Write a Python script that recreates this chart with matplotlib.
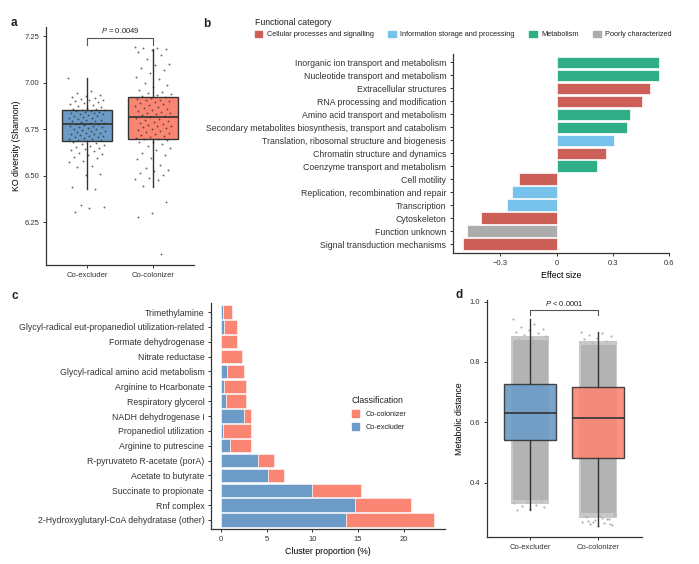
import matplotlib
matplotlib.use('Agg')
import matplotlib.pyplot as plt
import matplotlib.patches as mpatches
import numpy as np

plt.rcParams['font.family'] = ['Liberation Sans', 'DejaVu Sans']
plt.rcParams['mathtext.fontset'] = 'custom'
plt.rcParams['mathtext.it'] = 'Liberation Sans:italic'
plt.rcParams['mathtext.rm'] = 'Liberation Sans'
plt.rcParams['axes.edgecolor'] = '#333333'
plt.rcParams['xtick.color'] = '#333333'
plt.rcParams['ytick.color'] = '#333333'
plt.rcParams['text.color'] = '#222222'

# ---------------- data ----------------
groups = ['Co-excluder', 'Co-colonizer']

# panel a: KO diversity box stats (whislo, q1, med, q3, whishi)
a_stats = [[6.43, 6.685, 6.776, 6.856, 7.027],
           [6.44, 6.700, 6.815, 6.926, 7.184]]
a_points_excl = [7.027, 6.955, 6.945, 6.935, 6.93, 6.925, 6.92, 6.915, 6.91, 6.905,
                 6.90, 6.895, 6.89, 6.885, 6.88, 6.875, 6.87, 6.865, 6.86, 6.858,
                 6.855, 6.852, 6.85, 6.848, 6.845, 6.842, 6.84, 6.836, 6.832, 6.83,
                 6.826, 6.822, 6.82, 6.816, 6.812, 6.81, 6.806, 6.802, 6.80, 6.796,
                 6.792, 6.79, 6.786, 6.782, 6.78, 6.776, 6.772, 6.77, 6.766, 6.762,
                 6.76, 6.756, 6.752, 6.75, 6.746, 6.742, 6.74, 6.736, 6.732, 6.73,
                 6.726, 6.722, 6.72, 6.716, 6.712, 6.71, 6.706, 6.702, 6.70, 6.696,
                 6.692, 6.69, 6.686, 6.68, 6.675, 6.67, 6.665, 6.66, 6.655, 6.65,
                 6.645, 6.64, 6.635, 6.625, 6.615, 6.61, 6.60, 6.595, 6.58, 6.575,
                 6.55, 6.545, 6.51, 6.505, 6.44, 6.43, 6.345, 6.33, 6.325, 6.305]
a_points_col = [7.19, 7.188, 7.185, 7.18, 7.175, 7.165, 7.15, 7.13, 7.10, 7.095,
                7.08, 7.07, 7.05, 7.03, 7.02, 7.0, 6.99, 6.975, 6.96, 6.95,
                6.945, 6.94, 6.935, 6.93, 6.925, 6.92, 6.915, 6.91, 6.905, 6.90,
                6.895, 6.89, 6.885, 6.88, 6.875, 6.87, 6.865, 6.86, 6.855, 6.85,
                6.845, 6.84, 6.835, 6.83, 6.825, 6.82, 6.815, 6.81, 6.805, 6.80,
                6.795, 6.79, 6.785, 6.78, 6.775, 6.77, 6.765, 6.76, 6.755, 6.75,
                6.745, 6.74, 6.735, 6.73, 6.725, 6.72, 6.715, 6.71, 6.705, 6.70,
                6.695, 6.69, 6.68, 6.679, 6.67, 6.66, 6.65, 6.64, 6.625, 6.61,
                6.596, 6.59, 6.56, 6.542, 6.53, 6.525, 6.515, 6.503, 6.49, 6.48,
                6.475, 6.444, 6.36, 6.30, 6.28, 6.08]

# panel b: effect size per functional category (top to bottom)
b_labels = ['Inorganic ion transport and metabolism',
            'Nucleotide transport and metabolism',
            'Extracellular structures',
            'RNA processing and modification',
            'Amino acid transport and metabolism',
            'Secondary metabolites biosynthesis, transport and catabolism',
            'Translation, ribosomal structure and biogenesis',
            'Chromatin structure and dynamics',
            'Coenzyme transport and metabolism',
            'Cell motility',
            'Replication, recombination and repair',
            'Transcription',
            'Cytoskeleton',
            'Function unknown',
            'Signal transduction mechanisms']
b_values = [0.547, 0.547, 0.498, 0.454, 0.392, 0.374, 0.304, 0.261, 0.215,
            -0.198, -0.237, -0.265, -0.401, -0.477, -0.498]
b_cats = ['Metabolism', 'Metabolism', 'Cellular', 'Cellular', 'Metabolism', 'Metabolism',
          'Information', 'Cellular', 'Metabolism', 'Cellular', 'Information',
          'Information', 'Cellular', 'Poorly', 'Cellular']
b_cat_names = ['Cellular processes and signalling', 'Information storage and processing',
               'Metabolism', 'Poorly characterized']
b_cat_keys = ['Cellular', 'Information', 'Metabolism', 'Poorly']
b_cat_colors = {'Cellular': '#cc5f57', 'Information': '#77c2ea',
                'Metabolism': '#30ae87', 'Poorly': '#acacac'}

# panel c: cluster proportion (%) (top to bottom)
c_labels = ['Trimethylamine',
            'Glycyl-radical eut-propanediol utilization-related',
            'Formate dehydrogenase',
            'Nitrate reductase',
            'Glycyl-radical amino acid metabolism',
            'Arginine to Hcarbonate',
            'Respiratory glycerol',
            'NADH dehydrogenase I',
            'Propanediol utilization',
            'Arginine to putrescine',
            'R-pyruvateto R-acetate (porA)',
            'Acetate to butyrate',
            'Succinate to propionate',
            'Rnf complex',
            '2-Hydroxyglutaryl-CoA dehydratase (other)']
c_excluder = [0.18, 0.33, 0.05, 0.05, 0.69, 0.33, 0.55, 2.55, 0.18, 0.98,
              4.0, 5.1, 10.0, 14.64, 13.63]
c_total = [1.17, 1.71, 1.78, 2.26, 2.51, 2.70, 2.77, 3.28, 3.28, 3.28,
           5.76, 6.85, 15.3, 20.77, 23.28]

# panel d: metabolic distance box stats (whislo, q1, med, q3, whishi)
d_stats = [[0.31, 0.542, 0.632, 0.726, 0.942],
           [0.258, 0.481, 0.616, 0.717, 0.898]]
# dense point cloud extent (low, high) and its thinner fringe
d_cloud = [[0.344, 0.872], [0.30, 0.857]]
d_fringe = [[0.33, 0.885], [0.285, 0.87]]
d_tail_excl = [0.942, 0.925, 0.915, 0.91, 0.905, 0.90, 0.895, 0.89, 0.885, 0.88, 0.876,
               0.34, 0.336, 0.332, 0.328, 0.325, 0.32, 0.315, 0.31, 0.352, 0.348]
d_tail_col = [0.898, 0.895, 0.89, 0.885, 0.88, 0.875, 0.87, 0.862,
              0.298, 0.292, 0.288, 0.282, 0.278, 0.272, 0.268, 0.264, 0.26, 0.258,
              0.29, 0.28, 0.27, 0.295, 0.285, 0.275, 0.265]

blue = '#6b9bc6'
salmon = '#fa8573'


def jitter(n, w):
    return ((np.arange(n) * 0.6180339887) % 1.0 - 0.5) * 2 * w


def style_ax(ax):
    ax.spines['top'].set_visible(False)
    ax.spines['right'].set_visible(False)
    ax.spines['left'].set_linewidth(0.9)
    ax.spines['bottom'].set_linewidth(0.9)
    ax.tick_params(length=2.5, width=0.7, pad=2.5)


def make_bxp(stats):
    out = []
    for s in stats:
        out.append({'whislo': s[0], 'q1': s[1], 'med': s[2], 'q3': s[3],
                    'whishi': s[4], 'fliers': []})
    return out


fig = plt.figure(figsize=(6.99, 5.64), dpi=100)
W, H = 699.0, 564.0


def add_ax(l, t, r, b):
    return fig.add_axes([l / W, 1 - b / H, (r - l) / W, (b - t) / H])


# ---------------- panel a ----------------
axa = add_ax(46, 27, 194, 265)
style_ax(axa)
bp = axa.bxp(make_bxp(a_stats), positions=[0, 1], widths=0.75, patch_artist=True,
             showcaps=False, zorder=2,
             boxprops=dict(linewidth=1.0, edgecolor='#333333'),
             medianprops=dict(color='#333333', linewidth=1.2),
             whiskerprops=dict(color='#333333', linewidth=1.0))
for patch, c in zip(bp['boxes'], [blue, salmon]):
    patch.set_facecolor(c)
for i, pts in enumerate([a_points_excl, a_points_col]):
    axa.scatter(i + jitter(len(pts), 0.28), pts, s=1.8, color='#333333',
                alpha=0.75, linewidths=0, zorder=3)
axa.set_xlim(-0.62, 1.62)
axa.set_ylim(6.02, 7.30)
axa.set_yticks([6.25, 6.50, 6.75, 7.00, 7.25])
axa.set_yticklabels(['6.25', '6.50', '6.75', '7.00', '7.25'])
axa.set_xticks([0, 1])
axa.set_xticklabels(groups)
axa.tick_params(labelsize=5.5)
axa.set_ylabel('KO diversity (Shannon)', fontsize=6.3, labelpad=2)
axa.plot([0, 0, 1, 1], [7.205, 7.241, 7.241, 7.205], color='#555555', lw=0.8)
axa.text(0.5, 7.255, '$P$ = 0.0049', ha='center', va='bottom', fontsize=5.5)

# ---------------- panel b ----------------
axb = add_ax(453.3, 54, 669.3, 252.7)
style_ax(axb)
n_b = len(b_values)
ypos_b = np.arange(n_b)[::-1]
axb.barh(ypos_b, b_values, height=0.9,
         color=[b_cat_colors[k] for k in b_cats], edgecolor='white', linewidth=0.5)
axb.set_xlim(-0.55, 0.6)
axb.set_ylim(-0.65, n_b - 0.35)
axb.set_yticks(ypos_b)
axb.set_yticklabels(b_labels, fontsize=6.3)
axb.set_xticks([-0.3, 0, 0.3, 0.6])
axb.set_xticklabels(['\u22120.3', '0', '0.3', '0.6'], fontsize=5.5)
axb.set_xlabel('Effect size', fontsize=6.3, labelpad=3)
handles = [mpatches.Patch(color=b_cat_colors[k]) for k in b_cat_keys]
fig.legend(handles, b_cat_names, loc='upper left', bbox_to_anchor=(252 / W, 1 - 15 / H),
           ncol=4, frameon=False, fontsize=5.3, title='Functional category',
           title_fontsize=6.3, alignment='left', handlelength=1.0, handleheight=1.0,
           handletextpad=0.6, columnspacing=2.0, borderaxespad=0)

# ---------------- panel c ----------------
axc = add_ax(211.3, 303.3, 445, 529.3)
style_ax(axc)
n_c = len(c_total)
ypos_c = np.arange(n_c)[::-1]
c_col = [t - e for t, e in zip(c_total, c_excluder)]
axc.barh(ypos_c, c_excluder, height=0.9, color=blue, edgecolor='white', linewidth=0.4)
axc.barh(ypos_c, c_col, left=c_excluder, height=0.9, color=salmon,
         edgecolor='white', linewidth=0.4)
axc.set_xlim(-1.06, 24.5)
axc.set_ylim(-0.63, n_c - 0.41)
axc.set_yticks(ypos_c)
axc.set_yticklabels(c_labels, fontsize=6.3)
axc.set_xticks([0, 5, 10, 15, 20])
axc.tick_params(axis='x', labelsize=5.5)
axc.set_xlabel('Cluster proportion (%)', fontsize=6.3, labelpad=3)
c_handles = [mpatches.Patch(color=salmon), mpatches.Patch(color=blue)]
fig.legend(c_handles, ['Co-colonizer', 'Co-excluder'], loc='upper left',
           bbox_to_anchor=(349 / W, 1 - 393 / H), frameon=False, fontsize=5.3,
           title='Classification', title_fontsize=6.3, alignment='left',
           handlelength=1.0, handleheight=1.0, handletextpad=0.8, labelspacing=0.7,
           borderaxespad=0)

# ---------------- panel d ----------------
axd = add_ax(486.7, 300, 641.7, 536.7)
style_ax(axd)
for i in range(2):
    lo, hi = d_fringe[i]
    axd.fill_betweenx([lo, hi], i - 0.28, i + 0.28, color='#c8c8c8', linewidth=0, zorder=1)
    lo, hi = d_cloud[i]
    axd.fill_betweenx([lo, hi], i - 0.26, i + 0.26, color='#b3b3b3', linewidth=0, zorder=1)
for i, pts in enumerate([d_tail_excl, d_tail_col]):
    axd.scatter(i + jitter(len(pts), 0.26), pts, s=2.5, color='#b3b3b3',
                linewidths=0, zorder=1)
bpd = axd.bxp(make_bxp(d_stats), positions=[0, 1], widths=0.76, patch_artist=True,
              showcaps=False, zorder=2,
              boxprops=dict(linewidth=1.0, edgecolor='#333333'),
              medianprops=dict(color='#333333', linewidth=1.2),
              whiskerprops=dict(color='#333333', linewidth=1.0))
for patch, c in zip(bpd['boxes'], [blue, salmon]):
    patch.set_facecolor(c)
    patch.set_alpha(0.9)
axd.set_xlim(-0.64, 1.64)
axd.set_ylim(0.222, 1.005)
axd.set_yticks([0.4, 0.6, 0.8, 1.0])
axd.set_yticklabels(['0.4', '0.6', '0.8', '1.0'])
axd.set_xticks([0, 1])
axd.set_xticklabels(groups)
axd.tick_params(labelsize=5.5)
axd.set_ylabel('Metabolic distance', fontsize=6.3, labelpad=4)
axd.plot([0, 0, 1, 1], [0.956, 0.973, 0.973, 0.956], color='#555555', lw=0.8)
axd.text(0.5, 0.978, '$P$ < 0.0001', ha='center', va='bottom', fontsize=5.5)

# panel letters
for lab, x, y in [('a', 11, 23), ('b', 203, 24), ('c', 11, 296), ('d', 455, 295)]:
    fig.text(x / W, 1 - y / H, lab, fontsize=8.5, fontweight='bold', va='center', ha='left')

fig.savefig('out.png', dpi=100)
